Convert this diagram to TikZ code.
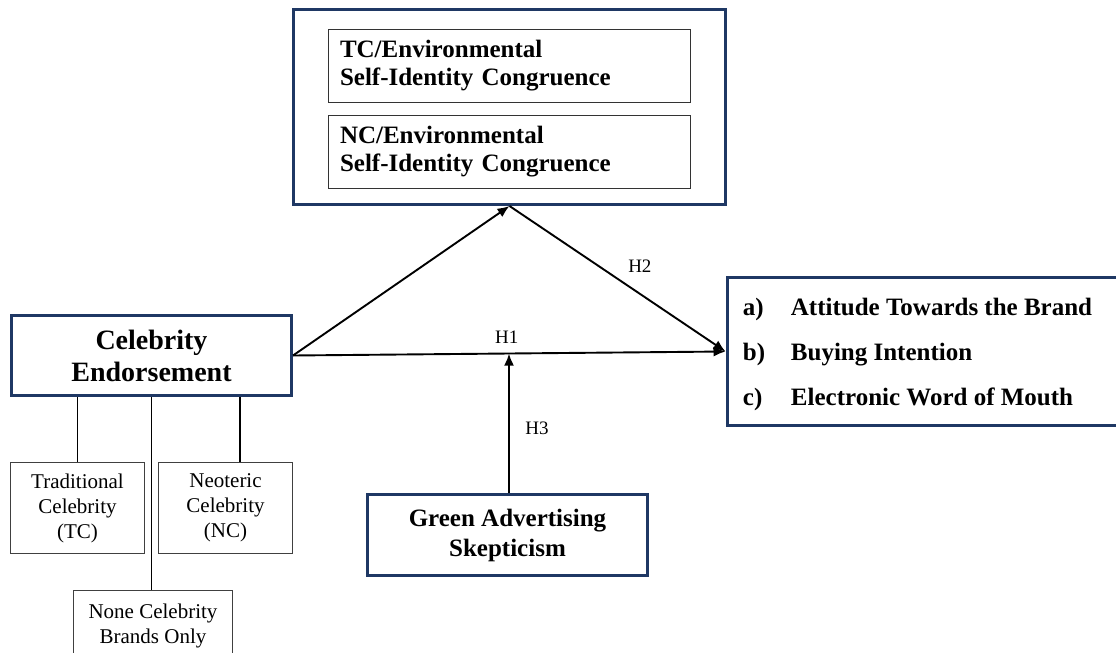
\documentclass[tikz,border=0pt]{standalone}
\usepackage{fontspec}
\setmainfont{Liberation Serif}
\usetikzlibrary{arrows.meta}
\definecolor{navy}{HTML}{1F3864}

\begin{document}
\begin{tikzpicture}[->,>={Latex[length=12pt,width=10pt]},x=1pt,y=-1pt,line width=1.9pt,
  outer node/.style={rectangle,draw=navy,line width=3pt,fill=white,align=center,inner sep=0pt},
  inner node/.style={rectangle,draw=black!80,line width=1pt,align=left,text width=338pt,
    minimum height=73pt,inner xsep=12pt,inner ysep=0pt,font=\bfseries\fontsize{25}{28}\selectfont},
  sub node/.style={rectangle,draw=black!75,line width=1.1pt,align=center,inner sep=0pt,
    font=\fontsize{21}{25}\selectfont},
  hyp/.style={font=\fontsize{19}{21}\selectfont}]

  \clip (0,0) rectangle (1116,653);

  % mediators
  \node[outer node,minimum width=432pt,minimum height=195pt] (top) at (509.5,107) {};
  \node[inner node] (tcsic) at (509,66) {TC/Environmental\\Self-Identity Congruence};
  \node[inner node] (ncsic) at (509,152) {NC/Environmental\\Self-Identity Congruence};

  % independent variable and its groups
  \node[outer node,minimum width=280pt,minimum height=80pt,font=\bfseries\fontsize{28}{32}\selectfont]
    (ce) at (151.5,355.5) {Celebrity\\Endorsement};
  \node[sub node,minimum width=134pt,minimum height=91pt] (tc) at (77.5,508) {Traditional\\Celebrity\\(TC)};
  \node[sub node,minimum width=134pt,minimum height=91pt] (nc) at (225.5,508) {Neoteric\\Celebrity\\(NC)};
  \node[sub node,minimum width=159pt,minimum height=70pt] (none) at (153,625.5) {None Celebrity\\Brands Only};

  % moderator
  \node[outer node,minimum width=280pt,minimum height=81pt,font=\bfseries\fontsize{25}{30}\selectfont]
    (gas) at (507.5,535) {Green Advertising\\Skepticism};

  % outcomes
  \node[outer node,anchor=west,minimum width=420pt,minimum height=148pt] (out) at (725.5,351.5) {};
  \node[anchor=west,inner sep=0pt,font=\bfseries\fontsize{25}{45}\selectfont] (outlist) at (742,351.5)
    {\begin{tabular}{@{}p{48pt}@{}l@{}}
      a) & Attitude Towards the Brand\\
      b) & Buying Intention\\
      c) & Electronic Word of Mouth
    \end{tabular}};

  \coordinate (meet) at (509,353.6);

  \path[every node/.style=hyp]
    (ce.east)  edge (top.south)
    (top.south) edge node [pos=0.53,above right,yshift=6pt] {H2} (out.west)
    (ce.east)  edge node [pos=0.494,above=6pt] {H1} (out.west)
    (meet |- gas.north) edge node [pos=0.465,right,xshift=12pt] {H3} (meet)
    ;

  \path[-,line width=1.3pt]
    (ce.south -| tc.north) edge (tc.north)
    (ce.south) edge (ce.south |- none.north)
    ([xshift=14.5pt]nc.north |- ce.south) edge ([xshift=14.5pt]nc.north)
    ;
\end{tikzpicture}
\end{document}
